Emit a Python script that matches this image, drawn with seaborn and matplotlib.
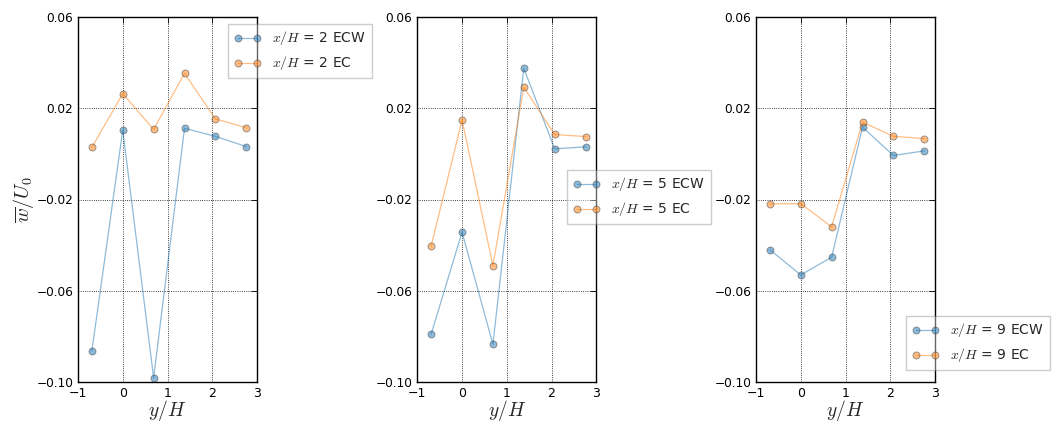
import numpy as np
import pandas as pd
import matplotlib
matplotlib.use("Agg")
import matplotlib.pyplot as plt
import seaborn as sns

# lateral positions y/H
y_pos = [-0.69, 0.0, 0.69, 1.38, 2.07, 2.76]

# streamwise stations
stations = [2, 5, 9]

# mean vertical velocity w/U0, case ECW
ecw_2 = [-0.0864, 0.0104, -0.0982, 0.0112, 0.0077, 0.0032]
ecw_5 = [-0.0790, -0.0343, -0.0835, 0.0375, 0.0022, 0.0031]
ecw_9 = [-0.0420, -0.0531, -0.0453, 0.0117, -0.0007, 0.0013]

# mean vertical velocity w/U0, case EC
ec_2 = [0.0028, 0.0264, 0.0107, 0.0353, 0.0153, 0.0115]
ec_5 = [-0.0404, 0.0149, -0.0490, 0.0292, 0.0085, 0.0076]
ec_9 = [-0.0219, -0.0218, -0.0320, 0.0139, 0.0077, 0.0067]

yticks = [0.06, 0.02, -0.02, -0.06, -0.10]
xticks = [-1, 0, 1, 2, 3]

sns.set_style("white")
plt.rcParams.update({
    "font.family": ["DejaVu Sans"],
    "mathtext.fontset": "cm",
    "axes.edgecolor": "black",
    "axes.linewidth": 1.0,
    "xtick.direction": "in",
    "ytick.direction": "in",
    "xtick.top": True,
    "ytick.right": True,
    "xtick.major.size": 4,
    "ytick.major.size": 4,
    "xtick.major.width": 0.6,
    "ytick.major.width": 0.6,
    "xtick.major.pad": 3.5,
    "ytick.major.pad": 3.5,
    "xtick.color": "black",
    "ytick.color": "black",
    "xtick.labelsize": 9,
    "ytick.labelsize": 8.7,
})

W, H = 1056, 422
fig = plt.figure(figsize=(W / 100, H / 100), dpi=100)

lefts = [78, 417.3, 756]
ax_w, ax_b, ax_h = 179, 40, 365
legend_anchor = [(0.838, 0.981), (0.836, 0.581), (0.838, 0.181)]

series = [(ecw_2, ec_2), (ecw_5, ec_5), (ecw_9, ec_9)]
blue = "#1f77b4"
orange = "#ff7f0e"

for i, (st, (ecw, ec)) in enumerate(zip(stations, series)):
    ax = fig.add_axes([lefts[i] / W, ax_b / H, ax_w / W, ax_h / H])
    for vals, col, tag in [(ecw, blue, "ECW"), (ec, orange, "EC")]:
        df = pd.DataFrame({"y": y_pos, "w": vals})
        sns.lineplot(data=df, x="y", y="w", ax=ax, color=col, alpha=0.5,
                     lw=0.9, marker="o", markersize=5, markeredgecolor="0.25",
                     markeredgewidth=0.7, estimator=None, sort=False,
                     label=rf"$x/H$ = {st} {tag}")
    ax.set_xlim(-1, 3)
    ax.set_ylim(-0.10, 0.06)
    ax.set_xticks(xticks)
    ax.set_yticks(yticks)
    ax.set_xticklabels([f"{t}".replace("-", "\u2212") for t in xticks])
    ax.set_yticklabels([f"{t:.2f}".replace("-", "\u2212") for t in yticks])
    ax.grid(True, ls=":", color="k", lw=0.6)
    ax.set_xlabel(r"$y/H$", fontsize=14, labelpad=-1)
    if i == 0:
        ax.set_ylabel(r"$\overline{w}/U_0$", fontsize=14.5, labelpad=0.5)
    else:
        ax.set_ylabel("")
    leg = ax.legend(loc="upper left", bbox_to_anchor=legend_anchor[i],
                    borderaxespad=0, fontsize=10, numpoints=2,
                    handlelength=2.0, fancybox=False, framealpha=0.4,
                    edgecolor="0.5")
    leg.get_frame().set_linewidth(1.0)

fig.savefig("out.png", dpi=100, facecolor="white")
